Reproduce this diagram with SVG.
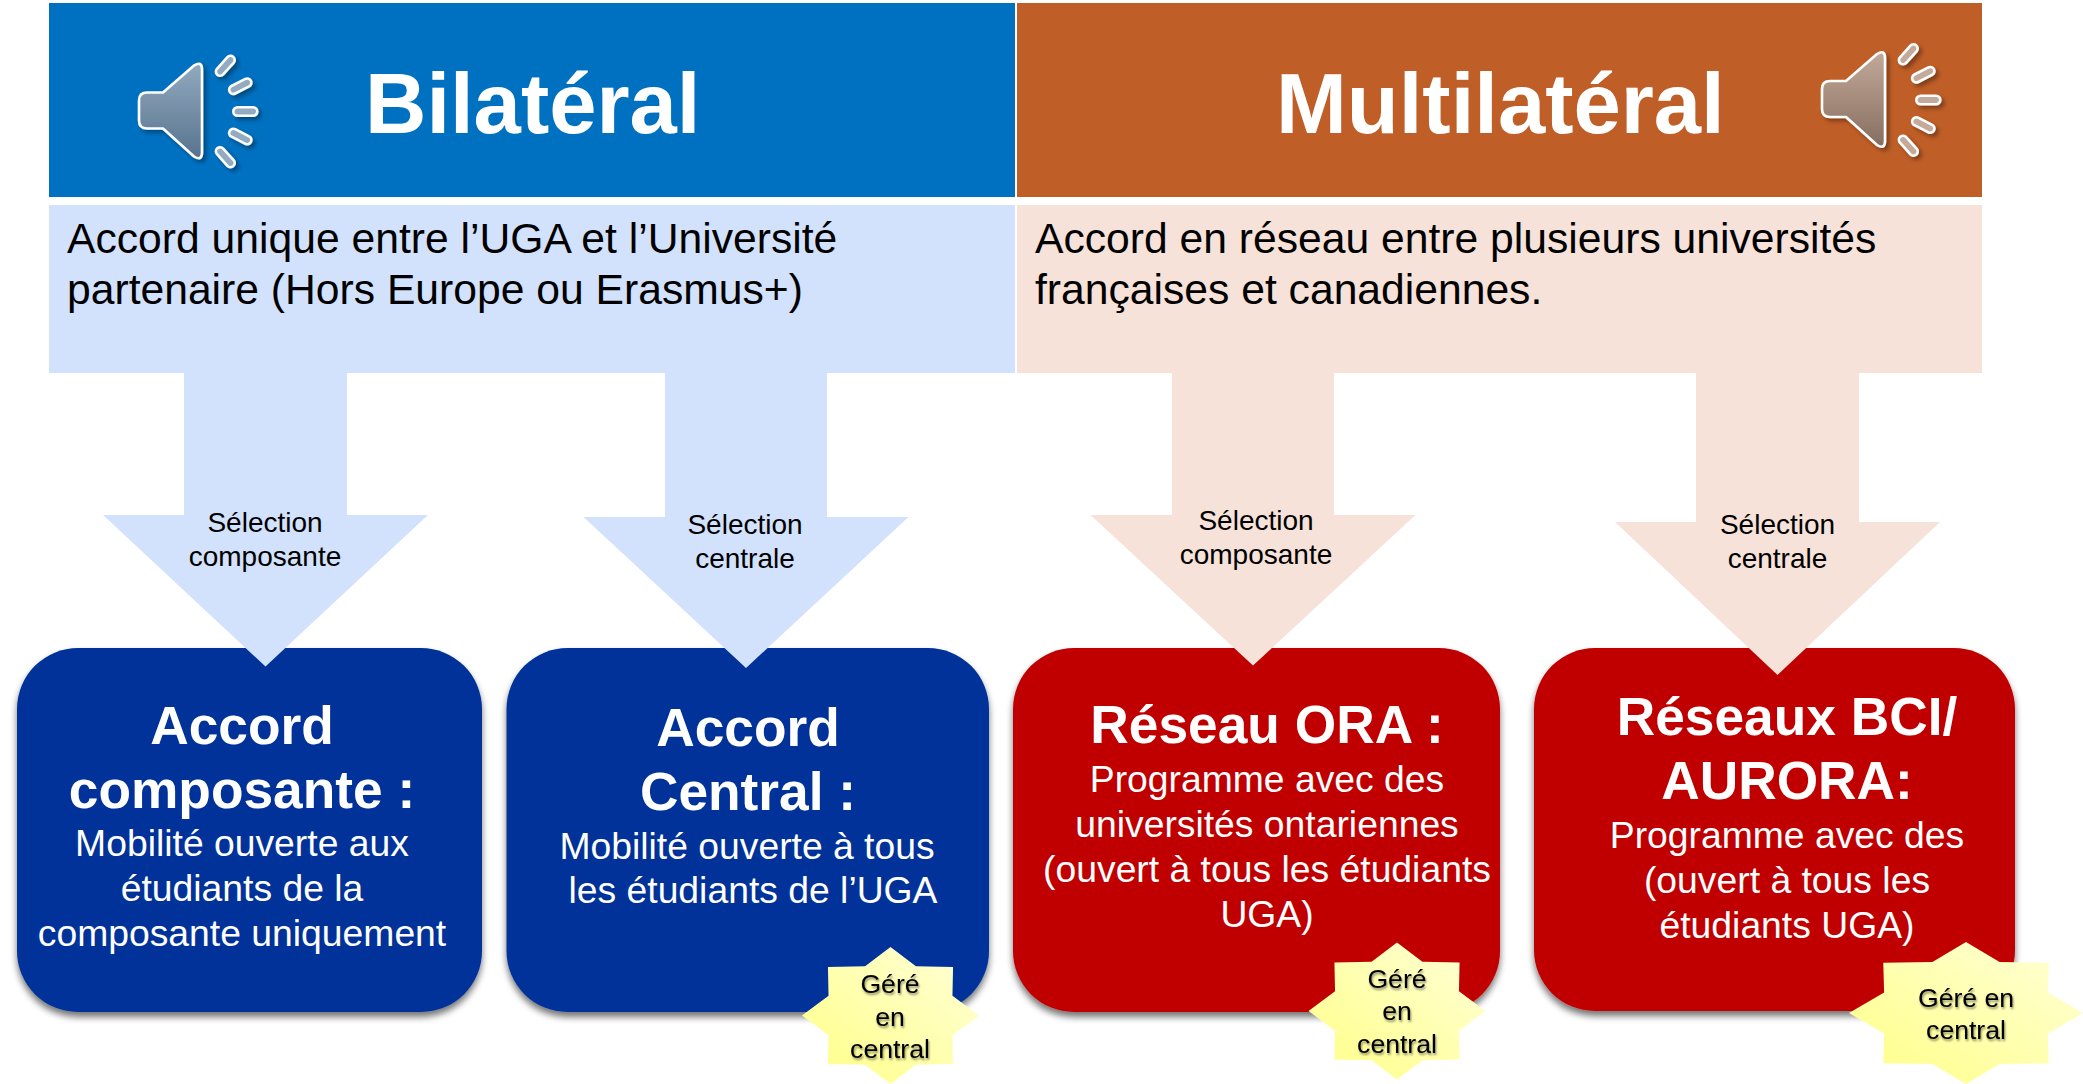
<svg xmlns="http://www.w3.org/2000/svg" xmlns:xlink="http://www.w3.org/1999/xlink" width="2083" height="1084" viewBox="0 0 2083 1084">
<style>
text{font-family:"Liberation Sans",Arial,sans-serif}
.hd{font-size:85px;font-weight:700;fill:#fff}
.pt{font-size:42.65px;fill:#000}
.bt{font-size:53.3px;font-weight:700;fill:#fff;text-anchor:middle}
.bb{font-size:37.3px;fill:#fff;text-anchor:middle}
.al{font-size:28px;fill:#000;text-anchor:middle}
.st{font-size:26.6px;fill:#000;text-anchor:middle;filter:url(#ts)}
.blue{fill:#D2E2FD}
.peach{fill:#F6E2D8}
.box{filter:url(#sh)}
.star{fill:url(#sg);filter:url(#ss)}
.spk path,.spk rect{stroke:#fff;stroke-width:2.6;stroke-linejoin:round}
</style>
<defs>
<filter id="sh" x="-10%" y="-10%" width="120%" height="120%"><feGaussianBlur in="SourceAlpha" stdDeviation="3.5"/><feOffset dx="0" dy="5"/><feComponentTransfer><feFuncA type="linear" slope="0.55"/></feComponentTransfer><feMerge><feMergeNode/><feMergeNode in="SourceGraphic"/></feMerge></filter>
<filter id="ss" x="-15%" y="-15%" width="130%" height="130%"><feGaussianBlur in="SourceAlpha" stdDeviation="3"/><feOffset dx="1" dy="5"/><feComponentTransfer><feFuncA type="linear" slope="0.7"/></feComponentTransfer><feMerge><feMergeNode/><feMergeNode in="SourceGraphic"/></feMerge></filter>
<filter id="ts" x="-15%" y="-15%" width="130%" height="140%"><feGaussianBlur in="SourceAlpha" stdDeviation="1.2"/><feOffset dx="0.5" dy="1.5"/><feComponentTransfer><feFuncA type="linear" slope="0.45"/></feComponentTransfer><feMerge><feMergeNode/><feMergeNode in="SourceGraphic"/></feMerge></filter>
<filter id="is" x="-20%" y="-20%" width="150%" height="150%"><feGaussianBlur in="SourceAlpha" stdDeviation="2"/><feOffset dx="3" dy="3"/><feComponentTransfer><feFuncA type="linear" slope="0.35"/></feComponentTransfer><feMerge><feMergeNode/><feMergeNode in="SourceGraphic"/></feMerge></filter>
<linearGradient id="sg" x1="0" y1="1" x2="1" y2="0"><stop offset="0.2" stop-color="#FFFF96"/><stop offset="0.85" stop-color="#FFFFCC"/></linearGradient>
<linearGradient id="gb" gradientUnits="userSpaceOnUse" x1="0" y1="50" x2="0" y2="150"><stop offset="0" stop-color="#92ABC0"/><stop offset="1" stop-color="#56718C"/></linearGradient>
<linearGradient id="go" gradientUnits="userSpaceOnUse" x1="0" y1="50" x2="0" y2="150"><stop offset="0" stop-color="#C4AA9B"/><stop offset="1" stop-color="#846C5D"/></linearGradient>
<g id="spk" class="spk" filter="url(#is)">
<path d="M1830,81H1846L1877,54Q1885,49 1885,58V141Q1885,150 1877,145L1846,117H1830Q1822,117 1822,109V89Q1822,81 1830,81Z"/>
<rect x="-12" y="-4.2" width="24" height="8.4" rx="4.2" transform="translate(1908.3,54.3) rotate(-48)"/>
<rect x="-12" y="-4.2" width="24" height="8.4" rx="4.2" transform="translate(1923.3,74.7) rotate(-27)"/>
<rect x="-12" y="-4.2" width="24" height="8.4" rx="4.2" transform="translate(1928.3,100)"/>
<rect x="-12" y="-4.2" width="24" height="8.4" rx="4.2" transform="translate(1923.3,125) rotate(27)"/>
<rect x="-12" y="-4.2" width="24" height="8.4" rx="4.2" transform="translate(1908.3,145.7) rotate(48)"/>
</g>
<polygon id="s8" points="0,-1 .287,-.72 .707,-.707 .7,-.29 1,0 .7,.29 .707,.707 .287,.72 0,1 -.287,.72 -.707,.707 -.7,.29 -1,0 -.7,-.29 -.707,-.707 -.287,-.72"/>
</defs>
<rect width="2083" height="1084" fill="#fff"/>

<g id="header-bilateral">
<rect x="49" y="3" width="966" height="194" fill="#0070C0"/>
<use href="#spk" x="-1683" y="11.5" fill="url(#gb)"/>
<text class="hd" x="365" y="133">Bilatéral</text>
</g>
<g id="header-multilateral">
<rect x="1017" y="3" width="965" height="194" fill="#BF5E27"/>
<use href="#spk" fill="url(#go)"/>
<text class="hd" x="1276" y="133">Multilatéral</text>
</g>
<g id="panel-bilateral">
<rect class="blue" x="49" y="205" width="966" height="168"/>
<text class="pt" x="67" y="253">Accord unique entre l’UGA et l’Université</text>
<text class="pt" x="67" y="304">partenaire (Hors Europe ou Erasmus+)</text>
</g>
<g id="panel-multilateral">
<rect class="peach" x="1017" y="205" width="965" height="168"/>
<text class="pt" x="1035" y="253">Accord en réseau entre plusieurs universités</text>
<text class="pt" x="1035" y="304">françaises et canadiennes.</text>
</g>

<g id="box-accord-composante">
<rect class="box" x="17" y="648" width="465" height="364" rx="61" fill="#003399"/>
<text class="bt" x="242" y="744">Accord</text>
<text class="bt" x="242" y="808">composante :</text>
<text class="bb" x="242" y="856">Mobilité ouverte aux</text>
<text class="bb" x="242" y="901">étudiants de la</text>
<text class="bb" x="242" y="946">composante uniquement</text>
</g>
<g id="box-accord-central">
<rect class="box" x="506.5" y="648" width="482.5" height="364" rx="61" fill="#003399"/>
<text class="bt" x="748" y="746">Accord</text>
<text class="bt" x="748" y="810">Central :</text>
<text class="bb" x="747" y="859">Mobilité ouverte à tous</text>
<text class="bb" x="753" y="903">les étudiants de l’UGA</text>
</g>
<g id="box-reseau-ora">
<rect class="box" x="1013" y="648" width="487" height="364" rx="61" fill="#C00000"/>
<text class="bt" x="1267" y="743">Réseau ORA :</text>
<text class="bb" x="1267" y="792">Programme avec des</text>
<text class="bb" x="1267" y="837">universités ontariennes</text>
<text class="bb" x="1267" y="882">(ouvert à tous les étudiants</text>
<text class="bb" x="1267" y="927">UGA)</text>
</g>
<g id="box-reseaux-bci">
<rect class="box" x="1534" y="648" width="481" height="363" rx="61" fill="#C00000"/>
<text class="bt" x="1787" y="735">Réseaux BCI/</text>
<text class="bt" x="1787" y="799">AURORA:</text>
<text class="bb" x="1787" y="848">Programme avec des</text>
<text class="bb" x="1787" y="893">(ouvert à tous les</text>
<text class="bb" x="1787" y="938">étudiants UGA)</text>
</g>

<g id="connectors">
<polygon class="blue" points="184,373 347,373 347,515 428,515 265.5,666.5 103,515 184,515"/>
<polygon class="blue" points="665,373 827,373 827,517 908.5,517 746,668 583.5,517 665,517"/>
<polygon class="peach" points="1172,368 1334,368 1334,515 1415.5,515 1253,665.5 1090.5,515 1172,515"/>
<polygon class="peach" points="1696,373 1859,373 1859,522 1940,522 1777.5,675 1615,522 1696,522"/>
<text class="al" x="265" y="532">Sélection</text><text class="al" x="265" y="566">composante</text>
<text class="al" x="745" y="534">Sélection</text><text class="al" x="745" y="568">centrale</text>
<text class="al" x="1256" y="530">Sélection</text><text class="al" x="1256" y="564">composante</text>
<text class="al" x="1777.5" y="534">Sélection</text><text class="al" x="1777.5" y="568">centrale</text>
</g>

<g id="star-central-1">
<use href="#s8" class="star" transform="translate(890.5,1015.5) scale(88.5,68.5)"/>
<text class="st" x="890" y="993">Géré</text><text class="st" x="890" y="1026">en</text><text class="st" x="890" y="1058">central</text>
</g>
<g id="star-central-2">
<use href="#s8" class="star" transform="translate(1397,1011) scale(88.5,68.5)"/>
<text class="st" x="1397" y="988">Géré</text><text class="st" x="1397" y="1020">en</text><text class="st" x="1397" y="1053">central</text>
</g>
<g id="star-central-3">
<use href="#s8" class="star" transform="translate(1966,1013) scale(117,71)"/>
<text class="st" x="1966" y="1007">Géré en</text><text class="st" x="1966" y="1039">central</text>
</g>
</svg>
